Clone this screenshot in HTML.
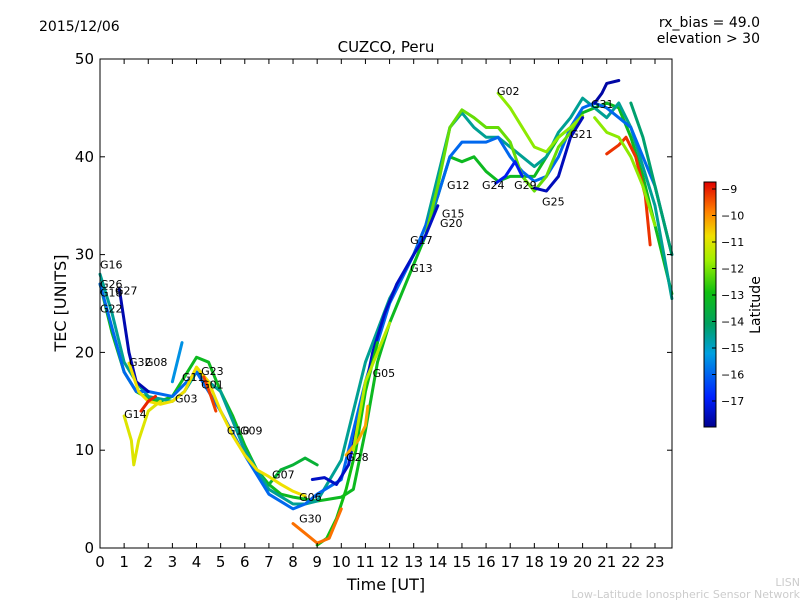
<!DOCTYPE html>
<html><head><meta charset="utf-8"><style>
body{margin:0;background:#fff;}
svg{display:block;font-family:"DejaVu Sans","Liberation Sans",sans-serif;}
</style></head><body>
<svg id="chart" width="800" height="600">
<rect width="800" height="600" fill="#fff"/>
<text x="39" y="31" font-size="14">2015/12/06</text>
<text x="760" y="27" font-size="14" text-anchor="end">rx_bias = 49.0</text>
<text x="760" y="43" font-size="14" text-anchor="end">elevation &gt; 30</text>
<text x="386" y="52" font-size="15" text-anchor="middle">CUZCO, Peru</text>
<g id="marks"></g>
<g id="labels"></g>
<rect x="100" y="59" width="572" height="489" fill="none" stroke="#000" stroke-width="1"/>
<g id="axes"></g>
<text x="386" y="590" font-size="16" text-anchor="middle">Time [UT]</text>
<text transform="translate(66,303) rotate(-90)" font-size="16" text-anchor="middle">TEC [UNITS]</text>
<defs><linearGradient id="cb" x1="0" y1="1" x2="0" y2="0">
<stop offset="0" stop-color="#00008f"/><stop offset="0.12" stop-color="#0020ff"/><stop offset="0.3" stop-color="#00a0e0"/><stop offset="0.42" stop-color="#00a060"/><stop offset="0.55" stop-color="#10c010"/><stop offset="0.68" stop-color="#a0f000"/><stop offset="0.78" stop-color="#f0e000"/><stop offset="0.88" stop-color="#ff8000"/><stop offset="1" stop-color="#e00000"/></linearGradient></defs>
<rect x="704" y="182" width="12" height="245" fill="url(#cb)" stroke="#000" stroke-width="1"/>
<g id="cbticks"></g>
<text transform="translate(760,305) rotate(-90)" font-size="14" text-anchor="middle">Latitude</text>
<text x="800" y="586" font-size="11" fill="#ccc" text-anchor="end">LISN</text>
<text x="800" y="598" font-size="11" fill="#ccc" text-anchor="end">Low-Latitude Ionospheric Sensor Network</text>
</svg>
<script>
const xTicks=[0,1,2,3,4,5,6,7,8,9,10,11,12,13,14,15,16,17,18,19,20,21,22,23];
const yTicks=[0,10,20,30,40,50];
const cbTicks=[-9,-10,-11,-12,-13,-14,-15,-16,-17];
const trackNames=["tA","tB","tC","tD","tE","tF","tG","tH","tI","tJ","tK","tL","tM","tN","tO","tP","tQ","tR","tS","tT","tU","tV","tW"];
const trackLat=[-13.2,-14.5,-15.8,-12.3,-17.4,-17.2,-11.2,-13.0,-16.8,-9.5,-17.5,-12.0,-15.3,-10.0,-17.3,-13.5,-14.2,-11.0,-9.4,-9.6,-10.5,-11.6,-12.0];
const tA=[[0,27],[0.5,22],[1,18],[1.5,16],[2,15.3],[2.5,15],[3,15.5],[3.5,17.5],[4,19.5],[4.5,19],[5,16],[5.5,13.5],[6,10.5],[6.5,8],[7,6.5],[7.5,5.5],[8,5.2],[8.5,5],[9,4.8],[9.5,5],[10,5.2],[10.5,6],[11,12],[11.5,19],[12,23],[12.5,26],[13,29],[13.5,32],[14,36],[14.5,40],[15,39.5],[15.5,40],[16,38.5],[16.5,37.5],[17,38],[17.5,38],[18,38],[18.5,40],[19,42],[19.5,43],[20,44.5],[20.5,45],[21,45.5],[21.5,45],[22,42],[22.5,38],[23,33],[23.7,26]];
const tB=[[0,28],[0.5,24],[1,19],[1.5,17],[2,15.5],[3,15],[3.5,16],[4,18],[5,16],[6,10],[7,6],[8,4.5],[8.5,4.5],[9,4.8],[10,9],[11,19],[12,25.5],[13,30],[13.5,33],[14,38],[14.5,43],[15,44.5],[15.5,43],[16,42],[16.5,42],[17,41],[17.5,40],[18,39],[18.5,40],[19,42.5],[19.5,44],[20,46],[20.5,45],[21,44],[21.5,45.5],[22,43],[23,35],[23.7,25.5]];
const tC=[[0,27],[1,18],[1.5,16],[2,16],[3,15.5],[4,18],[5,14],[6,9.5],[7,5.5],[8,4],[8.5,4.5],[9,5.5],[10,7],[11,17],[12,25],[13,30],[14,36],[14.5,40],[15,41.5],[15.5,41.5],[16,41.5],[16.5,42],[17,40],[17.5,38.5],[18,37.5],[18.5,38],[19,40],[19.5,43],[20,45],[20.5,45.5],[21,45],[21.5,44],[22,43],[23,37],[23.7,30]];
const tD=[[13.5,32],[14,37],[14.5,43],[15,44.8],[15.5,44],[16,43],[16.5,43],[17,41.5],[17.5,38],[18,36.5],[18.5,38],[19,41],[19.5,42.5],[20,44]];
const tE=[[0.8,26.5],[1.2,20],[1.5,17],[2,16]];
const tF=[[8.8,7],[9.3,7.2],[9.8,6.5],[10.3,8.5],[10.8,14],[11.3,20],[11.8,24],[12.3,27],[13,30],[13.5,32],[14,35]];
const tG=[[1,13.5],[1.3,11],[1.4,8.5],[1.6,11],[2,14],[2.5,15]];
const tH=[[9,0.3],[9.4,1],[9.8,3],[10.2,6],[10.6,10],[11,16],[11.5,21]];
const tI=[[16.4,37.3],[16.8,38],[17.2,39.5],[17.5,38]];
const tJ=[[21,40.3],[21.5,41.2],[21.8,42],[22.2,40],[22.6,36],[22.8,31]];
const tK=[[20.5,45.5],[20.8,46.5],[21,47.5],[21.5,47.8]];
const tL=[[16.5,46.5],[17,45],[17.5,43],[18,41],[18.5,40.5],[19,42],[19.5,43],[20,44.2]];
const tM=[[3,17],[3.4,21]];
const tN=[[8,2.5],[8.5,1.5],[9,0.5],[9.5,1],[10,4]];
const tO=[[18,36.8],[18.5,36.5],[19,38],[19.5,42],[20,44]];
const tP=[[7,6.5],[7.5,8],[8,8.5],[8.5,9.2],[9,8.5]];
const tQ=[[22,45.5],[22.5,42],[23,37],[23.7,30]];
const tR=[[1.2,18.9],[1.6,16],[2,15],[2.5,14.7],[3,15],[3.5,16],[4,18.5],[4.5,17],[5,14],[5.5,11.5],[6,9.5],[6.5,8],[7,7.3],[7.5,6.5],[8,5.8],[8.5,5.3]];
const tS=[[1.7,14],[2,15],[2.3,15.5]];
const tT=[[4.3,17.5],[4.6,15.5],[4.8,14]];
const tU=[[10.2,9.5],[10.7,11],[11,12.5],[11.1,14.5]];
const tV=[[10.5,10],[11,17],[11.5,20],[12,23]];
const tW=[[20.5,44],[21,42.5],[21.5,42],[22,40],[22.5,37],[23,33]];
const labelNames=["G16","G26","G18","G27","G22","G32","G08","G14","G11","G23","G01","G03","G10","G09","G07","G06","G30","G28","G05","G17","G13","G20","G15","G12","G24","G29","G25","G02","G21","G31"];
const labelT=[0,0,0,0.62,0,1.2,1.86,1.0,3.4,4.19,4.19,3.11,5.26,5.8,7.13,8.25,8.25,10.2,11.3,12.85,12.85,14.09,14.17,14.38,15.83,17.16,18.32,16.45,19.48,20.35];
const labelV=[28.6,26.6,25.7,25.9,24.1,18.6,18.6,13.3,17.1,17.7,16.3,14.9,11.6,11.6,7.1,4.8,2.6,8.9,17.5,31.1,28.2,32.8,33.8,36.7,36.7,36.7,35.0,46.3,41.9,45.0];
const X=t=>100+t*24.13, Y=v=>548-v*9.78;
const ns="http://www.w3.org/2000/svg";
function mk(tag,attrs,parent){const e=document.createElementNS(ns,tag);for(const k in attrs)e.setAttribute(k,attrs[k]);parent.appendChild(e);return e;}
function latColor(l){const f=Math.max(0,Math.min(1,(l+17.7)/8.6));
const st=[[0,[0,0,143]],[0.12,[0,32,255]],[0.3,[0,160,224]],[0.42,[0,160,96]],[0.55,[16,192,16]],[0.68,[160,240,0]],[0.78,[240,224,0]],[0.88,[255,128,0]],[1,[224,0,0]]];
for(let i=1;i<st.length;i++){if(f<=st[i][0]){const a=st[i-1],b=st[i],r=(f-a[0])/(b[0]-a[0]);return `rgb(${a[1].map((c,j)=>Math.round(c+(b[1][j]-c)*r)).join(',')})`;}}return 'rgb(224,0,0)';}
const tracks={tA,tB,tC,tD,tE,tF,tG,tH,tI,tJ,tK,tL,tM,tN,tO,tP,tQ,tR,tS,tT,tU,tV,tW};
const gm=document.getElementById('marks');
trackNames.forEach((n,i)=>{const p=mk('polyline',{points:tracks[n].map(d=>X(d[0])+','+Y(d[1])).join(' '),fill:'none',stroke:latColor(trackLat[i]),'stroke-width':3,'stroke-linejoin':'round','stroke-linecap':'round'},gm);

});
const gl=document.getElementById('labels');
labelNames.forEach((n,i)=>{const t=mk('text',{x:X(labelT[i]),y:Y(labelV[i]),'font-size':11},gl);t.textContent=n;

});
const ga=document.getElementById('axes');
xTicks.forEach(v=>{mk('line',{x1:X(v),x2:X(v),y1:548,y2:543,stroke:'#000'},ga);mk('line',{x1:X(v),x2:X(v),y1:59,y2:64,stroke:'#000'},ga);
const t=mk('text',{x:X(v),y:567,'font-size':15,'text-anchor':'middle'},ga);t.textContent=v;

});
yTicks.forEach(v=>{mk('line',{x1:100,x2:105,y1:Y(v),y2:Y(v),stroke:'#000'},ga);mk('line',{x1:667,x2:672,y1:Y(v),y2:Y(v),stroke:'#000'},ga);
const t=mk('text',{x:94,y:Y(v)+5,'font-size':15,'text-anchor':'end'},ga);t.textContent=v;

});
const gc=document.getElementById('cbticks');
cbTicks.forEach(v=>{const y=189+(-9-v)*26.5;mk('line',{x1:712,x2:716,y1:y,y2:y,stroke:'#000'},gc);
const t=mk('text',{x:721,y:y+4,'font-size':11},gc);t.textContent='\u2212'+(-v);

});
</script>
</body></html>
